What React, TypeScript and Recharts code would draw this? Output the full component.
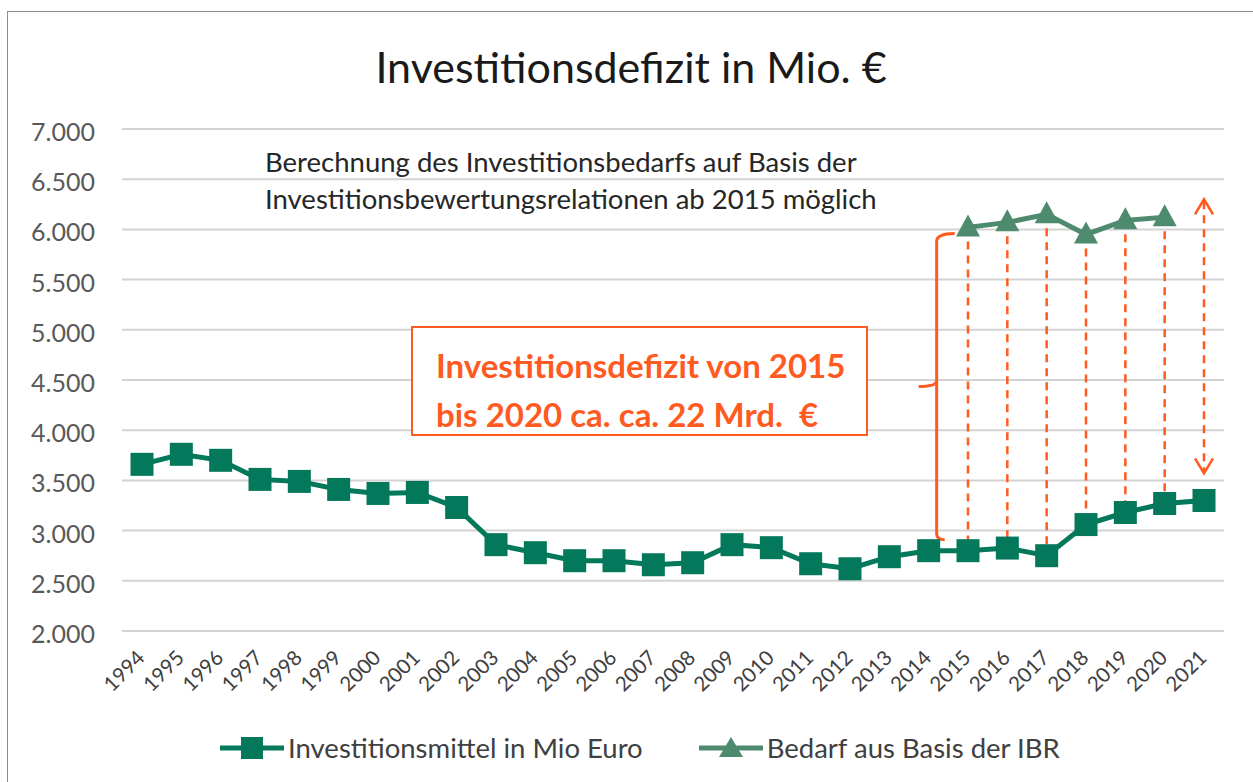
import React from 'react';
import { LineChart, Line, XAxis, YAxis, CartesianGrid, ReferenceLine } from 'recharts';

const years = [
  '1994', '1995', '1996', '1997', '1998', '1999', '2000', '2001', '2002', '2003',
  '2004', '2005', '2006', '2007', '2008', '2009', '2010', '2011', '2012', '2013',
  '2014', '2015', '2016', '2017', '2018', '2019', '2020', '2021',
];

// Investitionsmittel in Mio Euro
const investitionsmittel = [
  3660, 3760, 3700, 3510, 3490, 3410, 3370, 3380, 3230, 2860,
  2780, 2700, 2700, 2660, 2680, 2860, 2830, 2670, 2620, 2740,
  2800, 2800, 2826, 2750, 3060, 3180, 3270, 3300,
];

// Bedarf aus Basis der IBR (nur 2015 - 2020)
const bedarfIBR: (number | null)[] = [
  null, null, null, null, null, null, null, null, null, null,
  null, null, null, null, null, null, null, null, null, null,
  null, 6020, 6070, 6150, 5950, 6090, 6120, null,
];

const yTicks = [2000, 2500, 3000, 3500, 4000, 4500, 5000, 5500, 6000, 6500, 7000];
const gapYears = ['2015', '2016', '2017', '2018', '2019', '2020'];

const GREEN = '#03785A';
const GREEN_LIGHT = '#4E8A6E';
const ORANGE = '#FF5A1F';
const GRID = '#D3D3D3';
const FONT = 'Lato, "Open Sans", sans-serif';

const data = years.map((year, i) => ({
  year,
  mittel: investitionsmittel[i],
  bedarf: bedarfIBR[i],
}));

const fmt = (v: number) => String(v).replace(/\B(?=(\d{3})+(?!\d))/g, '.');

const SquareDot = (props: any) => {
  const { cx, cy, index } = props;
  if (cx == null || cy == null) return <g key={`sq-${index}`} />;
  return <rect key={`sq-${index}`} x={cx - 11.5} y={cy - 11.5} width={23} height={23} fill={GREEN} />;
};

const TriangleDot = (props: any) => {
  const { cx, cy, index } = props;
  if (cx == null || cy == null) return <g key={`tr-${index}`} />;
  return (
    <polygon
      key={`tr-${index}`}
      points={`${cx},${cy - 13} ${cx - 12},${cy + 9} ${cx + 12},${cy + 9}`}
      fill={GREEN_LIGHT}
    />
  );
};

const YTick = ({ y, payload }: any) => (
  <text x={95} y={y + 2} dominantBaseline="central" textAnchor="end" fontSize={25} fill="#595959" fontFamily={FONT}>
    {fmt(payload.value)}
  </text>
);

const XTick = ({ x, payload }: any) => {
  const ax = x + 4;
  const ay = 659;
  return (
    <text x={ax} y={ay} transform={`rotate(-45, ${ax}, ${ay})`} textAnchor="end" fontSize={20.5} fill="#404040" fontFamily={FONT}>
      {payload.value}
    </text>
  );
};

// dashed double arrow for 2021
const DoubleArrow = (p: any) => {
  const { x1, y1, y2 } = p;
  const top = Math.min(y1, y2);
  const bot = Math.max(y1, y2);
  return (
    <g stroke={ORANGE} strokeWidth={2.5} fill="none">
      <line x1={x1} y1={top + 2} x2={x1} y2={bot - 2} strokeDasharray="8 6" />
      <path d={`M ${x1 - 9} ${top + 15} L ${x1} ${top} L ${x1 + 9} ${top + 15}`} />
      <path d={`M ${x1 - 9} ${bot - 15} L ${x1} ${bot} L ${x1 + 9} ${bot - 15}`} />
    </g>
  );
};

// curly bracket left of 2015
const Brace = (p: any) => {
  const { x1, y1, y2 } = p;
  const x = x1 + 8;
  const top = Math.min(y1, y2);
  const bot = Math.max(y1, y2);
  const mid = (top + bot) / 2;
  const d = [
    `M ${x + 18} ${top}`,
    `Q ${x} ${top} ${x} ${top + 8}`,
    `L ${x} ${mid - 6}`,
    `Q ${x} ${mid} ${x - 18} ${mid}`,
    `M ${x} ${mid - 6}`,
    `Q ${x} ${mid} ${x} ${mid + 6}`,
    `L ${x} ${bot - 6}`,
    `Q ${x} ${bot} ${x + 8} ${bot}`,
  ].join(' ');
  return <path d={d} stroke={ORANGE} strokeWidth={3} fill="none" />;
};

const LegendItem = ({ color, marker, label }: { color: string; marker: 'square' | 'triangle'; label: string }) => (
  <div style={{ display: 'flex', alignItems: 'center' }}>
    <svg width={66} height={26}>
      <line x1={0} y1={13} x2={64} y2={13} stroke={color} strokeWidth={5} />
      {marker === 'square' ? (
        <rect x={21} y={2} width={22} height={22} fill={color} />
      ) : (
        <polygon points="32,2 20,22 44,22" fill={color} />
      )}
    </svg>
    <span style={{ fontSize: 27.5, color: '#404040', marginLeft: 2 }}>{label}</span>
  </div>
);

export default function App() {
  return (
    <div
      style={{
        position: 'absolute',
        left: 0,
        top: 0,
        width: 1253,
        height: 782,
        background: '#fff',
        fontFamily: FONT,
        overflow: 'hidden',
      }}
    >
      <div
        style={{
          position: 'absolute',
          left: 7,
          top: 11,
          right: -5,
          bottom: -5,
          borderLeft: '1.5px solid #8C8C8C',
          borderTop: '1.5px solid #8C8C8C',
        }}
      />
      <LineChart
        width={1253}
        height={782}
        data={data}
        margin={{ top: 129, right: 29, bottom: 91, left: 22 }}
      >
        <CartesianGrid vertical={false} stroke={GRID} strokeWidth={2} />
        <XAxis
          dataKey="year"
          interval={0}
          tickLine={false}
          axisLine={false}
          height={60}
          padding={{ left: 20, right: 20 }}
          tick={<XTick />}
        />
        <YAxis
          domain={[2000, 7000]}
          ticks={yTicks}
          width={100}
          tickLine={false}
          axisLine={false}
          tick={<YTick />}
        />
        {gapYears.map((yr) => {
          const d = data.find((r) => r.year === yr)!;
          return (
            <ReferenceLine
              key={yr}
              segment={[{ x: yr, y: d.bedarf as number }, { x: yr, y: d.mittel }]}
              stroke={ORANGE}
              strokeWidth={2.5}
              strokeDasharray="8 6"
            />
          );
        })}
        <ReferenceLine segment={[{ x: '2021', y: 6300 }, { x: '2021', y: 3570 }]} shape={DoubleArrow} />
        <ReferenceLine segment={[{ x: '2014', y: 5960 }, { x: '2014', y: 2910 }]} shape={Brace} />
        <Line
          dataKey="mittel"
          stroke={GREEN}
          strokeWidth={5}
          dot={SquareDot}
          activeDot={false}
          isAnimationActive={false}
        />
        <Line
          dataKey="bedarf"
          stroke={GREEN_LIGHT}
          strokeWidth={5}
          dot={TriangleDot}
          activeDot={false}
          connectNulls={false}
          isAnimationActive={false}
        />
      </LineChart>

      <div
        style={{
          position: 'absolute',
          left: 0,
          width: 1262,
          top: 40,
          textAlign: 'center',
          fontSize: 43,
          color: '#1a1a1a',
          lineHeight: '54px',
        }}
      >
        Investitionsdefizit in Mio. €
      </div>

      <div
        style={{
          position: 'absolute',
          left: 265,
          top: 143,
          fontSize: 27.5,
          lineHeight: '37px',
          color: '#262626',
          whiteSpace: 'nowrap',
        }}
      >
        Berechnung des Investitionsbedarfs auf Basis der
        <br />
        Investitionsbewertungsrelationen ab 2015 möglich
      </div>

      <div
        style={{
          position: 'absolute',
          left: 411,
          top: 326,
          width: 457,
          height: 110,
          border: `2px solid ${ORANGE}`,
          background: '#fff',
          boxSizing: 'border-box',
          padding: '13px 0 0 23px',
          color: ORANGE,
          fontWeight: 700,
          fontSize: 33,
          lineHeight: '49px',
          whiteSpace: 'nowrap',
        }}
      >
        Investitionsdefizit von 2015
        <br />
        bis 2020 ca. ca. 22 Mrd.&nbsp;&nbsp;€
      </div>

      <div
        style={{
          position: 'absolute',
          left: 220,
          top: 731,
          display: 'flex',
          alignItems: 'center',
          gap: 56,
        }}
      >
        <LegendItem color={GREEN} marker="square" label="Investitionsmittel in Mio Euro" />
        <LegendItem color={GREEN_LIGHT} marker="triangle" label="Bedarf aus Basis der IBR" />
      </div>
    </div>
  );
}
